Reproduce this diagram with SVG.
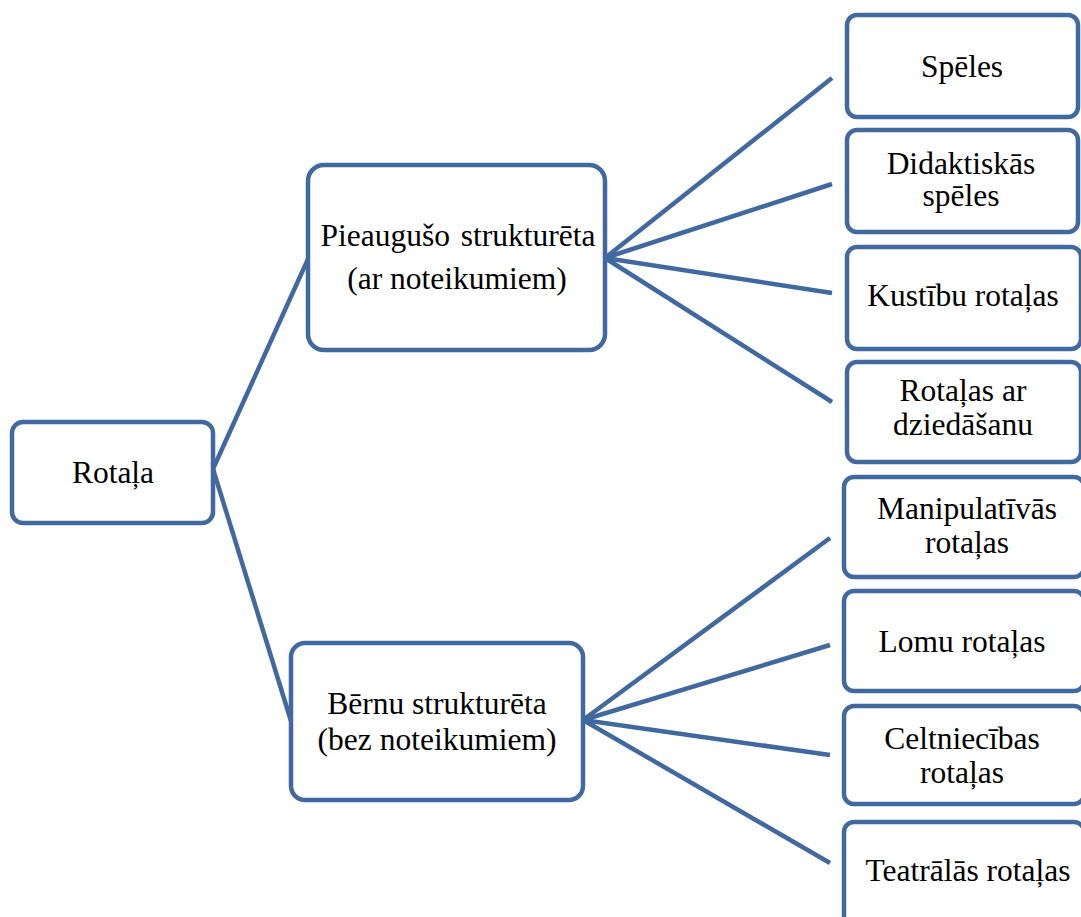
<svg xmlns="http://www.w3.org/2000/svg" width="1081" height="917" viewBox="0 0 1081 917">
<style>
.box{fill:#fff;stroke:#4169a0;stroke-width:4.5}
.ln{stroke:#4169a0;stroke-width:4.5;fill:none}
.t{font-family:'Liberation Serif','Times New Roman',serif;font-size:31.5px;fill:#000;text-anchor:middle}
</style>
<rect width="1081" height="917" fill="#fff"/>
<g id="connectors">
<line class="ln" x1="213" y1="469" x2="308" y2="259"/>
<line class="ln" x1="213" y1="469" x2="291" y2="721"/>
<line class="ln" x1="605" y1="258" x2="832" y2="78"/>
<line class="ln" x1="605" y1="258" x2="832" y2="184"/>
<line class="ln" x1="605" y1="258" x2="832" y2="293"/>
<line class="ln" x1="605" y1="258" x2="832" y2="402"/>
<line class="ln" x1="583" y1="720" x2="830" y2="538"/>
<line class="ln" x1="583" y1="720" x2="830" y2="645"/>
<line class="ln" x1="583" y1="720" x2="830" y2="755"/>
<line class="ln" x1="583" y1="720" x2="830" y2="863"/>
</g>
<g class="t">
<g id="n-rotala"><rect class="box" x="12" y="422" width="201" height="101" rx="11"/><text x="113" y="483">Rotaļa</text></g>
<g id="n-pieauguso"><rect class="box" x="308" y="165" width="297" height="185" rx="16"/><text x="458" y="246" word-spacing="3">Pieaugušo strukturēta</text><text x="457" y="289">(ar noteikumiem)</text></g>
<g id="n-bernu"><rect class="box" x="291" y="643" width="292" height="157" rx="14"/><text x="437" y="714">Bērnu strukturēta</text><text x="437" y="750">(bez noteikumiem)</text></g>
<g id="n-speles"><rect class="box" x="847" y="15" width="231" height="102" rx="10"/><text x="962" y="77">Spēles</text></g>
<g id="n-didaktiskas"><rect class="box" x="847" y="130" width="231" height="102" rx="10"/><text x="961" y="174">Didaktiskās</text><text x="961" y="206">spēles</text></g>
<g id="n-kustibu"><rect class="box" x="847" y="247" width="234" height="102" rx="10"/><text x="963" y="306">Kustību rotaļas</text></g>
<g id="n-dziedasanu"><rect class="box" x="847" y="362" width="234" height="100" rx="10"/><text x="963" y="401">Rotaļas ar</text><text x="963" y="435">dziedāšanu</text></g>
<g id="n-manipulativas"><rect class="box" x="844" y="477" width="240" height="100" rx="10"/><text x="967" y="519">Manipulatīvās</text><text x="967" y="553">rotaļas</text></g>
<g id="n-lomu"><rect class="box" x="844" y="591" width="240" height="100" rx="10"/><text x="962" y="652">Lomu rotaļas</text></g>
<g id="n-celtniecibas"><rect class="box" x="844" y="706" width="240" height="98" rx="10"/><text x="962" y="749">Celtniecības</text><text x="962" y="783">rotaļas</text></g>
<g id="n-teatralas"><rect class="box" x="844" y="822" width="240" height="105" rx="10"/><text x="968" y="881">Teatrālās rotaļas</text></g>
</g>
</svg>
